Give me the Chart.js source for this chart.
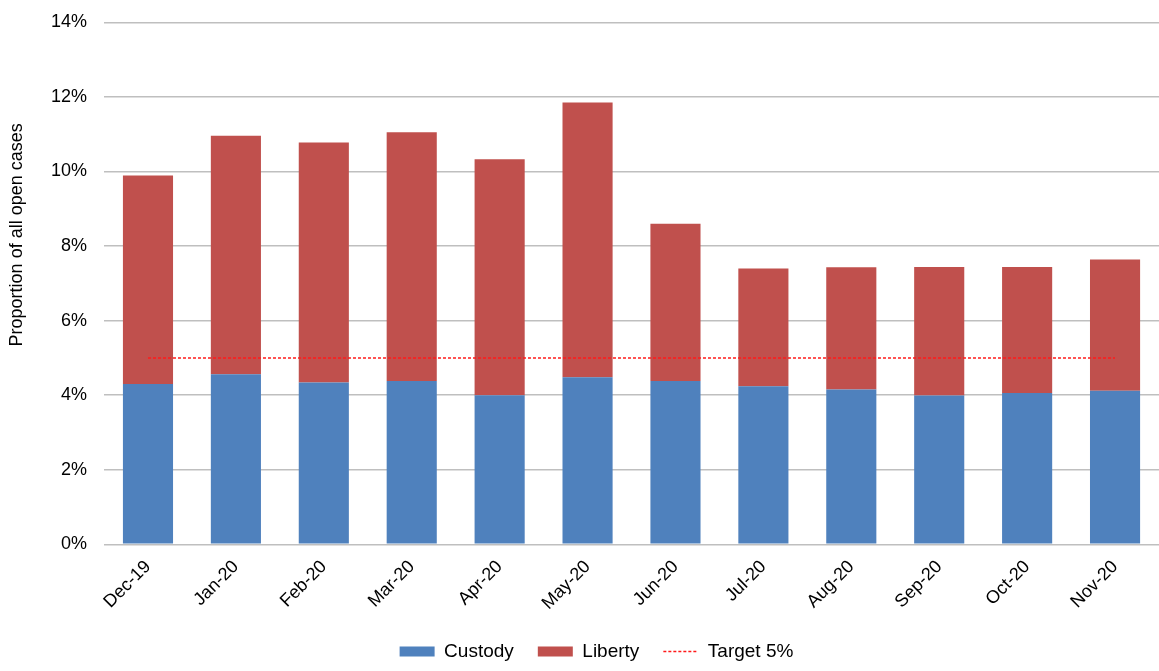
<!DOCTYPE html>
<html lang="en">
<head>
    <meta charset="UTF-8">
    <title>Proportion of all open cases</title>
    <script src="https://cdn.jsdelivr.net/npm/chart.js"></script>
    <style>
        html, body { margin: 0; padding: 0; background: #fff; }
        #wrap { width: 1159px; height: 671px; }
    </style>
</head>
<body>
    <div id="wrap"><canvas id="caseChart"></canvas></div>

    <script>
        // Months shown on the x axis
        const months = ['Dec-19', 'Jan-20', 'Feb-20', 'Mar-20', 'Apr-20', 'May-20',
                        'Jun-20', 'Jul-20', 'Aug-20', 'Sep-20', 'Oct-20', 'Nov-20'];

        // Share of all open cases (%)
        const custody = [4.30, 4.56, 4.34, 4.38, 4.00, 4.48, 4.38, 4.24, 4.15, 3.99, 4.06, 4.12];
        const liberty = [5.59, 6.40, 6.44, 6.67, 6.33, 7.37, 4.22, 3.16, 3.28, 3.45, 3.38, 3.52];
        const target = [5, 5, 5, 5, 5, 5, 5, 5, 5, 5, 5, 5];

        const yTicks = [0, 2, 4, 6, 8, 10, 12, 14];
        const axisTitle = 'Proportion of all open cases';

        Chart.defaults.font.family = '"Liberation Sans", Arial, sans-serif';
        Chart.defaults.color = '#000';

        // Excel puts the y title a bit above the plot middle, so draw it by hand
        const yTitlePlugin = {
            id: 'yTitle',
            afterDraw(chart) {
                const ctx = chart.ctx;
                ctx.save();
                ctx.translate(17, chart.height * 0.35);
                ctx.rotate(-Math.PI / 2);
                ctx.font = '18px "Liberation Sans", Arial, sans-serif';
                ctx.fillStyle = '#000';
                ctx.textAlign = 'center';
                ctx.textBaseline = 'middle';
                ctx.fillText(axisTitle, 0, 0);
                ctx.restore();
            }
        };

        const ctx = document.getElementById('caseChart').getContext('2d');
        new Chart(ctx, {
            data: {
                labels: months,
                datasets: [{
                    type: 'bar',
                    label: 'Custody',
                    data: custody,
                    backgroundColor: '#4F81BD',
                    stack: 'cases',
                    barPercentage: 0.57,
                    categoryPercentage: 1.0
                }, {
                    type: 'bar',
                    label: 'Liberty',
                    data: liberty,
                    backgroundColor: '#C0504D',
                    stack: 'cases',
                    barPercentage: 0.57,
                    categoryPercentage: 1.0
                }, {
                    type: 'line',
                    label: 'Target 5%',
                    data: target,
                    stack: 'target',
                    borderColor: '#FF1A1A',
                    backgroundColor: '#FF1A1A',
                    borderWidth: 1.5,
                    borderDash: [3, 2],
                    pointRadius: 0,
                    pointStyle: 'line',
                    fill: false,
                    order: -1
                }]
            },
            options: {
                responsive: true,
                maintainAspectRatio: false,
                animation: false,
                layout: {
                    padding: { left: 34, top: 0, right: 0, bottom: 0 }
                },
                scales: {
                    x: {
                        stacked: true,
                        grid: { display: false },
                        border: { display: false },
                        ticks: {
                            autoSkip: false,
                            maxRotation: 45,
                            minRotation: 45,
                            padding: 4,
                            font: { size: 18 }
                        }
                    },
                    y: {
                        stacked: true,
                        min: 0,
                        max: 14,
                        afterBuildTicks: axis => {
                            axis.ticks = yTicks.map(v => ({ value: v }));
                        },
                        grid: {
                            color: '#BFBFBF',
                            lineWidth: 1.5,
                            drawTicks: false
                        },
                        border: { display: false },
                        ticks: {
                            padding: 17,
                            // small line height only trims the space reserved above the 14% label
                            font: { size: 18, lineHeight: 0.6 },
                            callback: v => v + '%'
                        }
                    }
                },
                plugins: {
                    tooltip: { enabled: false },
                    legend: {
                        position: 'bottom',
                        labels: {
                            usePointStyle: true,
                            pointStyleWidth: 35,
                            boxHeight: 10,
                            padding: 24,
                            font: { size: 19 },
                            sort: (a, b) => a.datasetIndex - b.datasetIndex,
                            generateLabels: chart => {
                                const items = Chart.defaults.plugins.legend.labels.generateLabels(chart);
                                items.forEach(item => {
                                    const ds = chart.data.datasets[item.datasetIndex];
                                    if (ds.type === 'line') {
                                        item.lineDash = ds.borderDash;
                                        item.lineWidth = 1.5;
                                        item.strokeStyle = ds.borderColor;
                                        item.fillStyle = ds.borderColor;
                                    } else {
                                        item.pointStyle = 'rect';
                                        item.lineWidth = 0;
                                    }
                                });
                                return items;
                            }
                        }
                    }
                }
            },
            plugins: [yTitlePlugin]
        });
    </script>
</body>
</html>
